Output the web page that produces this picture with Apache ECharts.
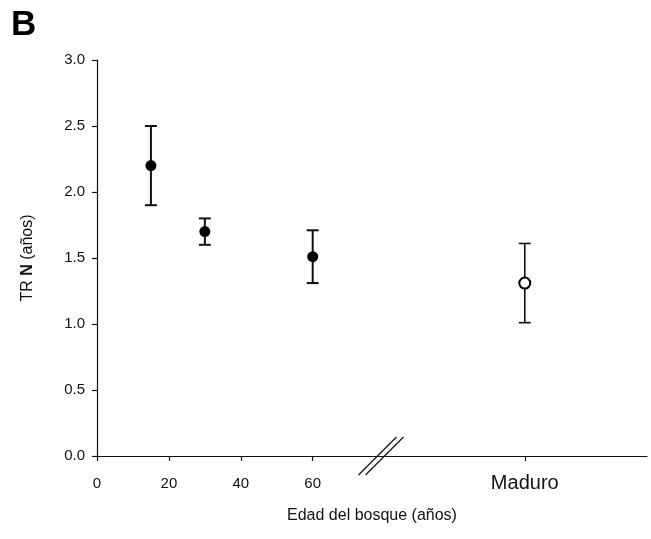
<!DOCTYPE html>
<html>
<head>
<meta charset="utf-8">
<script src="https://cdn.jsdelivr.net/npm/echarts@6/dist/echarts.min.js"></script>
<style>
html,body{margin:0;padding:0;background:#fff;}
#chart{width:651px;height:539px;}
</style>
</head>
<body>
<div id="chart"></div>
<script>
// ---- data ----
const ageX = [15, 30, 60];
const ageMean = [2.2, 1.7, 1.51];
const ageLow = [1.9, 1.6, 1.31];
const ageHigh = [2.5, 1.8, 1.71];

const maduroX = 119;
const maduroMean = [1.31];
const maduroLow = [1.01];
const maduroHigh = [1.61];

const xTickValues = [0, 20, 40, 60, maduroX];
const xTickLabels = ['0', '20', '40', '60', 'Maduro'];
const breakAt = 79;

const xTitle = 'Edad del bosque (años)';
const panelLabel = 'B';

// ---- build ----
const FONT = '"Liberation Sans", Arial, sans-serif';
const INK = '#111';

const meanPts = ageX.map((x, i) => [x, ageMean[i]]);
const barPts = ageX.map((x, i) => [x, ageLow[i], ageHigh[i]]);
const madPts = [[maduroX, maduroMean[0]]];
const madBar = [[maduroX, maduroLow[0], maduroHigh[0]]];

function errRender(width, capHalf) {
  return function (params, api) {
    const x = api.value(0);
    const lo = api.coord([x, api.value(1)]);
    const hi = api.coord([x, api.value(2)]);
    const st = { stroke: INK, lineWidth: width };
    return {
      type: 'group',
      children: [
        { type: 'line', shape: { x1: lo[0], y1: lo[1], x2: hi[0], y2: hi[1] }, style: st },
        { type: 'line', shape: { x1: lo[0] - capHalf, y1: lo[1], x2: lo[0] + capHalf, y2: lo[1] }, style: st },
        { type: 'line', shape: { x1: hi[0] - capHalf, y1: hi[1], x2: hi[0] + capHalf, y2: hi[1] }, style: st }
      ]
    };
  };
}

const chart = echarts.init(document.getElementById('chart'), null, { renderer: 'canvas' });

const option = {
  animation: false,
  backgroundColor: '#fff',
  textStyle: { fontFamily: FONT, color: INK },
  grid: { left: 97, right: 4, top: 60, bottom: 83, containLabel: false },
  xAxis: {
    type: 'value',
    min: 0,
    max: 153,
    name: xTitle,
    nameLocation: 'middle',
    nameGap: 52,
    nameTextStyle: { fontFamily: FONT, fontSize: 16, color: INK },
    axisLine: { show: true, onZero: false, lineStyle: { color: INK, width: 1.2 } },
    axisTick: { show: true, length: 5, lineStyle: { color: INK, width: 1.2 }, customValues: xTickValues },
    axisLabel: {
      show: true,
      margin: 20,
      fontFamily: FONT,
      fontSize: 15,
      color: INK,
      customValues: xTickValues,
      formatter: function (v) {
        const i = xTickValues.indexOf(v);
        if (i < 0) return '';
        if (v === maduroX) return '{m|' + xTickLabels[i] + '}';
        return xTickLabels[i];
      },
      rich: { m: { fontFamily: FONT, fontSize: 20, color: INK, padding: [-3, 0, 0, 0] } }
    },
    splitLine: { show: false }
  },
  yAxis: {
    type: 'value',
    min: 0,
    max: 3,
    interval: 0.5,
    name: 'TR {b|N} (años)',
    nameLocation: 'middle',
    nameGap: 61,
    nameRotate: 90,
    nameTextStyle: {
      fontFamily: FONT, fontSize: 16, color: INK,
      rich: { b: { fontFamily: FONT, fontSize: 16, fontWeight: 'bold', color: INK } }
    },
    axisLine: { show: true, lineStyle: { color: INK, width: 1.2 } },
    axisTick: { show: true, length: 5, lineStyle: { color: INK, width: 1.2 } },
    axisLabel: {
      margin: 12,
      fontFamily: FONT,
      fontSize: 15,
      color: INK,
      formatter: v => v.toFixed(1)
    },
    splitLine: { show: false }
  },
  series: [
    {
      type: 'custom',
      renderItem: errRender(2, 6),
      data: barPts,
      encode: { x: 0, y: [1, 2] },
      z: 2
    },
    {
      type: 'custom',
      renderItem: errRender(1.6, 6),
      data: madBar,
      encode: { x: 0, y: [1, 2] },
      z: 2
    },
    {
      type: 'scatter',
      data: meanPts,
      symbol: 'circle',
      symbolSize: 11,
      itemStyle: { color: '#000', opacity: 1 },
      z: 3
    },
    {
      type: 'scatter',
      data: madPts,
      symbol: 'circle',
      symbolSize: 11,
      itemStyle: { color: '#fff', borderColor: '#000', borderWidth: 2, opacity: 1 },
      z: 3
    }
  ]
};

chart.setOption(option);

// break marks on the x axis and the panel letter
const bp = chart.convertToPixel({ xAxisIndex: 0, yAxisIndex: 0 }, [breakAt, 0]);
const half = 19;
const sep = 3.5;
chart.setOption({
  graphic: [
    {
      type: 'line',
      shape: { x1: bp[0] - sep - half, y1: bp[1] + half, x2: bp[0] - sep + half, y2: bp[1] - half },
      style: { stroke: INK, lineWidth: 1.2 },
      z: 10
    },
    {
      type: 'line',
      shape: { x1: bp[0] + sep - half, y1: bp[1] + half, x2: bp[0] + sep + half, y2: bp[1] - half },
      style: { stroke: INK, lineWidth: 1.2 },
      z: 10
    },
    {
      type: 'text',
      left: 11,
      top: 8,
      style: { text: panelLabel, fontFamily: FONT, fontSize: 35, fontWeight: 'bold', fill: '#000' },
      z: 10
    }
  ]
});
</script>
</body>
</html>
